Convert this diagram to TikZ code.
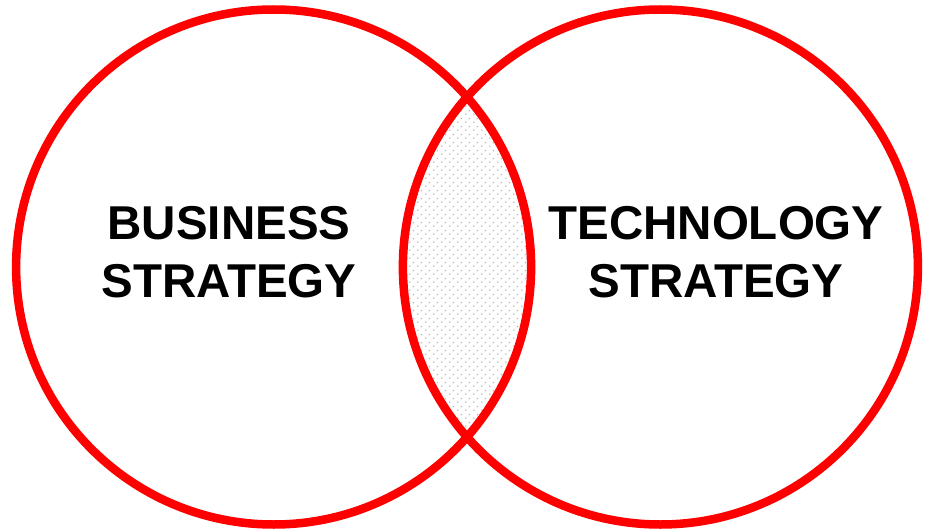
\documentclass[tikz,border=0pt]{standalone}
\usepackage{fontspec}
\setmainfont{Liberation Sans}
\usetikzlibrary{patterns.meta}
\tikzdeclarepattern{name=venndots, type=uncolored, bounding box={(0pt,0pt) and (8pt,8pt)}, tile size={(8pt,8pt)}, code={\fill (2pt,2pt) circle (0.9pt); \fill (6pt,6pt) circle (0.9pt);}}
\tikzset{
  ring/.style={draw=red, line width=8.5pt},
  label/.style={font=\fontsize{47.5}{58}\selectfont\bfseries, anchor=base, inner sep=0pt}
}
\begin{document}
\begin{tikzpicture}[x=1pt,y=-1pt]
\useasboundingbox (0,0) rectangle (932,532);
\coordinate (L) at (273.6,267);
\coordinate (R) at (660.4,267);
\begin{scope}
  \clip (L) circle (257.5);
  \fill[pattern={venndots}, pattern color=black!28] (R) circle (257.5);
\end{scope}
\draw[ring] (L) circle (257.5);
\draw[ring] (R) circle (257.5);
\node[label] (b1) at (229,239) {BUSINESS};
\node[label] (b2) at (229,297) {STRATEGY};
\node[label] (t1) at (716,239) {TECHNOLOGY};
\node[label] (t2) at (716,297) {STRATEGY};
\end{tikzpicture}
\end{document}
